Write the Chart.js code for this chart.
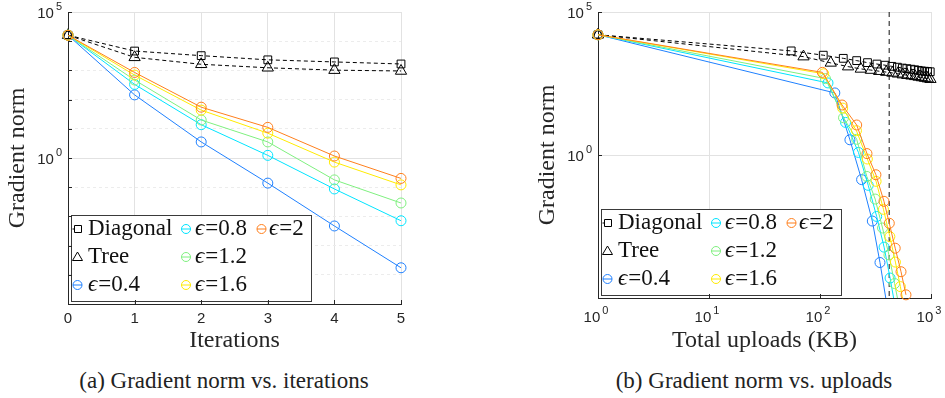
<!DOCTYPE html>
<html>
<head>
<meta charset="utf-8">
<script src="https://cdn.jsdelivr.net/npm/chart.js@4.4.0/dist/chart.umd.min.js"></script>
<style>
  body { margin: 0; background: #fff; }
  #page { position: relative; width: 945px; height: 398px; overflow: hidden; }
  .panel { position: absolute; top: 0; height: 355px; }
  .caption { position: absolute; top: 368px; font: 23px "Liberation Serif", serif; color: #222; text-align: center; white-space: nowrap; }
</style>
</head>
<body>
<div id="page">
  <div class="panel" style="left:0;width:470px"><canvas id="iterChart"></canvas></div>
  <div class="panel" style="left:470px;width:475px"><canvas id="uploadChart"></canvas></div>
  <div class="caption" style="left:24px;width:400px">(a) Gradient norm vs. iterations</div>
  <div class="caption" style="left:554px;width:400px">(b) Gradient norm vs. uploads</div>
</div>
<script>
const seriesNames = ['Diagonal', 'Tree', 'ϵ=0.4', 'ϵ=0.8', 'ϵ=1.2', 'ϵ=1.6', 'ϵ=2'];
const seriesColors = ['#000000', '#000000', '#1f80ff', '#00e4ff', '#7ff07f', '#ffeb00', '#ff7f1c'];
const seriesMarkers = ['rect', 'triangle', 'circle', 'circle', 'circle', 'circle', 'circle'];

// (a) gradient norm per iteration
const iterations = [0, 1, 2, 3, 4, 5];
const iterDiagonal = [1.6e4, 4.6e3, 3.2e3, 2.3e3, 1.95e3, 1.66e3];
const iterTree = [1.6e4, 2.8e3, 1.62e3, 1230, 1020, 955];
const iterEps04 = [1.6e4, 145, 3.55, 0.138, 4.7e-3, 1.74e-4];
const iterEps08 = [1.6e4, 331, 13.8, 1.23, 0.087, 7.1e-3];
const iterEps12 = [1.6e4, 468, 20, 3.55, 0.178, 0.0288];
const iterEps16 = [1.6e4, 692, 43.7, 7.08, 0.724, 0.12];
const iterEps20 = [1.6e4, 851, 55, 11.2, 1.17, 0.2];

// (b) gradient norm vs total uploads (KB)
const upDiagonalKB = [1, 55, 107, 162, 214, 268, 326, 386, 444, 498, 552, 606, 660, 714, 768, 822, 876, 930, 984];
const upDiagonal = [1.6e4, 4365, 3090, 2399, 1995, 1698, 1514, 1380, 1259, 1175, 1096, 1047, 1000, 955, 912, 871, 851, 832, 813];
const upTreeKB = [1, 71, 125, 179, 233, 287, 341, 395, 449, 503, 557, 611, 665, 719, 773, 827, 881, 935, 989];
const upTree = [1.6e4, 2754, 1660, 1230, 1023, 933, 851, 794, 741, 692, 646, 617, 589, 562, 537, 513, 490, 468, 447];
const upEps04KB = [1, 136, 186, 237, 296, 347, 399];
const upEps04 = [1.6e4, 148, 3.4, 0.138, 4.9e-3, 1.74e-4, 6.3e-6];
const upEps08KB = [1, 118, 170, 222, 272, 324, 378, 428, 480];
const upEps08 = [1.6e4, 331, 13.8, 1.23, 0.087, 7.1e-3, 6.0e-4, 5.0e-5, 4.0e-6];
const upEps12KB = [1, 112, 163, 214, 264, 314, 366, 418, 470, 522];
const upEps12 = [1.6e4, 468, 20, 3.55, 0.178, 0.0288, 2.8e-3, 3.2e-4, 3.2e-5, 4.0e-6];
const upEps16KB = [1, 108, 160, 213, 267, 320, 373, 426, 478, 530, 582];
const upEps16 = [1.6e4, 692, 43.7, 7.08, 0.724, 0.12, 0.0126, 1.4e-3, 1.8e-4, 2.5e-5, 3.2e-6];
const upEps20KB = [1, 105, 158, 214, 265, 319, 377, 421, 476, 537, 595];
const upEps20 = [1.6e4, 776, 56, 11.2, 1.12, 0.204, 0.024, 4.1e-3, 5.5e-4, 8.3e-5, 1.29e-5];
const budgetKB = 420;

// tick positions and labels (exponents of 10)
const decades = [1e-5, 1e-4, 1e-3, 1e-2, 1e-1, 1, 10, 100, 1e3, 1e4, 1e5];
const majorDecades = [1e-5, 1, 1e5];
const yExponents = { 100000: '5', 1: '0' };
const kbTicks = [1, 10, 100, 1000];
const kbExponents = { 1: '0', 10: '1', 100: '2', 1000: '3' };

const tickFont = { family: 'Liberation Sans', size: 15 };
const titleFont = { family: 'Liberation Serif', size: 24 };
const ink = '#262626';

function buildSets(xLists, yLists) {
  return yLists.map((ys, i) => ({
    label: seriesNames[i],
    data: ys.map((y, j) => ({ x: xLists[i][j], y: y })),
    showLine: true,
    borderColor: seriesColors[i],
    borderWidth: 1,
    borderDash: i < 2 ? [4, 3] : [],
    pointStyle: seriesMarkers[i],
    pointRadius: i === 0 ? 5.5 : (i === 1 ? 6.5 : 5),
    pointBorderColor: seriesColors[i],
    pointBackgroundColor: 'rgba(0,0,0,0)',
    pointBorderWidth: 1,
    order: 10 - i
  }));
}

// legend laid out in 3 columns like the figure
const legendSlots = [[0, 0], [0, 1], [0, 2], [1, 0], [1, 1], [1, 2], [2, 0]];
const legendBox = {
  id: 'legendBox',
  afterDatasetsDraw(chart) {
    const { ctx, chartArea } = chart;
    const w = 240, h = 86;
    const x0 = chartArea.left + 3, y0 = chartArea.bottom - 3 - h;
    const markX = [6.5, 115, 190.5], textX = [17, 124, 198];
    ctx.save();
    ctx.fillStyle = '#fff';
    ctx.fillRect(x0, y0, w, h);
    ctx.strokeStyle = '#3a3a3a';
    ctx.lineWidth = 1;
    ctx.strokeRect(Math.round(x0) + 0.5, Math.round(y0) + 0.5, w, h);
    legendSlots.forEach(([col, row], i) => {
      const cy = y0 + 14 + row * 28;
      const mx = x0 + markX[col];
      ctx.strokeStyle = seriesColors[i];
      ctx.lineWidth = 1;
      ctx.beginPath();
      if (i >= 2) {
        ctx.moveTo(mx - 4.5, cy); ctx.lineTo(mx + 4.5, cy);
      }
      ctx.stroke();
      ctx.beginPath();
      if (seriesMarkers[i] === 'circle') {
        ctx.arc(mx, cy, 4.5, 0, Math.PI * 2);
      } else if (seriesMarkers[i] === 'rect') {
        ctx.rect(mx - 3, cy - 3.5, 7, 7);
        ctx.moveTo(mx - 5, cy); ctx.lineTo(mx - 3, cy);
      } else {
        ctx.moveTo(mx, cy - 5); ctx.lineTo(mx + 5, cy + 3.5); ctx.lineTo(mx - 5, cy + 3.5); ctx.closePath();
      }
      ctx.stroke();
      ctx.fillStyle = '#111';
      ctx.textBaseline = 'middle';
      let tx = x0 + textX[col];
      const name = seriesNames[i];
      if (name.startsWith('ϵ')) {
        ctx.font = 'italic 23px "Liberation Serif", "DejaVu Serif", serif';
        ctx.fillText('ϵ', tx, cy);
        tx += ctx.measureText('ϵ').width + 1;
        ctx.font = '23px "Liberation Serif", serif';
        ctx.fillText(name.slice(1), tx, cy);
      } else {
        ctx.font = '23px "Liberation Serif", serif';
        ctx.fillText(name, tx, cy);
      }
    });
    ctx.restore();
  }
};

// "10" with a raised exponent, plus short inward tick marks
function drawPower(ctx, exp, x, y, align) {
  ctx.font = '15px "Liberation Sans", sans-serif';
  const baseW = ctx.measureText('10').width;
  ctx.font = '11px "Liberation Sans", sans-serif';
  const expW = ctx.measureText(exp).width;
  const total = baseW + 2 + expW;
  const left = align === 'right' ? x - total : x - total / 2;
  ctx.fillStyle = ink;
  ctx.textAlign = 'left';
  ctx.textBaseline = 'middle';
  ctx.font = '15px "Liberation Sans", sans-serif';
  ctx.fillText('10', left, y);
  ctx.font = '11px "Liberation Sans", sans-serif';
  ctx.fillText(exp, left + baseW + 2, y - 7);
}

const axisDecor = {
  id: 'axisDecor',
  afterDraw(chart) {
    const { ctx, chartArea, scales } = chart;
    const xs = scales.x, ys = scales.y;
    ctx.save();
    ctx.strokeStyle = ink;
    ctx.lineWidth = 1;
    ctx.beginPath();
    ys.ticks.forEach(t => {
      const py = Math.round(ys.getPixelForValue(t.value)) + 0.5;
      ctx.moveTo(chartArea.left, py); ctx.lineTo(chartArea.left + 4, py);
    });
    xs.ticks.forEach(t => {
      const px = Math.round(xs.getPixelForValue(t.value)) + 0.5;
      ctx.moveTo(px, chartArea.bottom); ctx.lineTo(px, chartArea.bottom - 4);
    });
    ctx.stroke();
    Object.keys(yExponents).forEach(v => {
      drawPower(ctx, yExponents[v], chartArea.left - 6, ys.getPixelForValue(Number(v)) + 2, 'right');
    });
    if (xs.type === 'logarithmic') {
      kbTicks.forEach(v => {
        drawPower(ctx, kbExponents[v], xs.getPixelForValue(v) - 2, chartArea.bottom + 20, 'center');
      });
    }
    ctx.restore();
  }
};

function logY(minorGrid, axisWidth) {
  return {
    type: 'logarithmic',
    min: 1e-5,
    max: 1e5,
    afterBuildTicks: s => { s.ticks = (minorGrid ? decades : majorDecades).map(v => ({ value: v })); },
    afterFit: s => { s.width = axisWidth; },
    ticks: { display: false },
    grid: {
      drawTicks: false,
      color: c => (c.tick && !majorDecades.includes(c.tick.value)) ? '#ececec' : '#e2e2e2'
    },
    border: {
      color: ink,
      dash: c => (c.tick && !majorDecades.includes(c.tick.value)) ? [3, 3] : []
    },
    title: { display: true, text: 'Gradient norm', font: titleFont, color: ink, padding: { top: 3, bottom: 0 } }
  };
}

Chart.defaults.font.family = 'Liberation Sans';

new Chart(document.getElementById('iterChart'), {
  type: 'scatter',
  data: {
    datasets: buildSets(
      [iterations, iterations, iterations, iterations, iterations, iterations, iterations],
      [iterDiagonal, iterTree, iterEps04, iterEps08, iterEps12, iterEps16, iterEps20]
    ).map(d => Object.assign(d, { clip: false }))
  },
  options: {
    responsive: true,
    maintainAspectRatio: false,
    animation: false,
    devicePixelRatio: 1,
    layout: { padding: { top: 12, right: 69, left: 0, bottom: 0 } },
    plugins: { legend: { display: false }, tooltip: { enabled: false } },
    scales: {
      x: {
        type: 'linear',
        min: 0,
        max: 5,
        afterBuildTicks: s => { s.ticks = iterations.map(v => ({ value: v })); },
        afterFit: s => { s.height = 51; },
        ticks: { callback: v => String(v), font: tickFont, color: ink, padding: 6, autoSkip: false, maxRotation: 0 },
        grid: { drawTicks: false, color: '#e2e2e2' },
        border: { color: ink },
        title: { display: true, text: 'Iterations', font: titleFont, color: ink, padding: { top: 0, bottom: 0 } }
      },
      y: logY(true, 68)
    }
  },
  plugins: [legendBox, axisDecor]
});

const uploadSets = buildSets(
  [upDiagonalKB, upTreeKB, upEps04KB, upEps08KB, upEps12KB, upEps16KB, upEps20KB],
  [upDiagonal, upTree, upEps04, upEps08, upEps12, upEps16, upEps20]
);
uploadSets.forEach((d, i) => {
  d.clip = { left: false, top: false, right: false, bottom: i === 6 ? 6 : 0 };
});
uploadSets.push({
  label: 'budget',
  data: [{ x: budgetKB, y: 1e5 }, { x: budgetKB, y: 1e-5 }],
  showLine: true,
  borderColor: '#111',
  borderWidth: 1,
  borderDash: [5, 4],
  pointRadius: 0,
  order: 20
});

new Chart(document.getElementById('uploadChart'), {
  type: 'scatter',
  data: { datasets: uploadSets },
  options: {
    responsive: true,
    maintainAspectRatio: false,
    animation: false,
    devicePixelRatio: 1,
    layout: { padding: { top: 12, right: 14, left: 60, bottom: 0 } },
    plugins: { legend: { display: false }, tooltip: { enabled: false } },
    scales: {
      x: {
        type: 'logarithmic',
        min: 1,
        max: 1000,
        afterBuildTicks: s => { s.ticks = kbTicks.map(v => ({ value: v })); },
        afterFit: s => { s.height = 57; },
        ticks: { display: false },
        grid: { drawTicks: false, color: '#e2e2e2' },
        border: { color: ink },
        title: { display: true, text: 'Total uploads (KB)', font: titleFont, color: ink, padding: { top: 0, bottom: 0 } }
      },
      y: logY(false, 68)
    }
  },
  plugins: [legendBox, axisDecor]
});
</script>
</body>
</html>
